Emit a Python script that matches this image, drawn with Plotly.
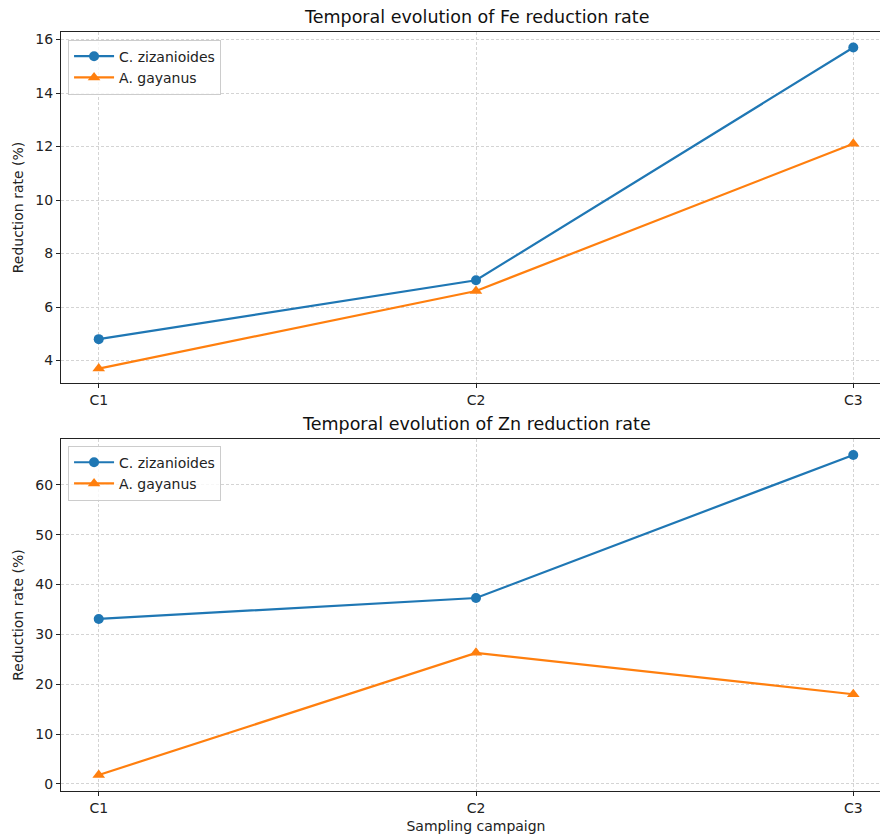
import plotly.graph_objects as go
from plotly.subplots import make_subplots

campaigns = ["C1", "C2", "C3"]
fe_czizanioides = [4.8, 7.0, 15.7]
fe_agayanus = [3.7, 6.6, 12.1]
zn_czizanioides = [33.1, 37.3, 66.0]
zn_agayanus = [1.8, 26.3, 18.0]

BLUE = "#1f77b4"
ORANGE = "#ff7f0e"
FONT = "DejaVu Sans"

fig = make_subplots(rows=2, cols=1, shared_xaxes=False, vertical_spacing=0.074)

def add(row, yc, ya, legend):
    fig.add_trace(go.Scatter(x=campaigns, y=yc, mode="lines+markers", name="C. zizanioides",
                             line=dict(color=BLUE, width=2.2),
                             marker=dict(symbol="circle", size=10, color=BLUE),
                             legend=legend), row=row, col=1)
    fig.add_trace(go.Scatter(x=campaigns, y=ya, mode="lines+markers", name="A. gayanus",
                             line=dict(color=ORANGE, width=2.2),
                             marker=dict(symbol="triangle-up", size=11, color=ORANGE),
                             legend=legend), row=row, col=1)

add(1, fe_czizanioides, fe_agayanus, "legend")
add(2, zn_czizanioides, zn_agayanus, "legend2")

legend_style = dict(x=0.0085, xanchor="left", bgcolor="rgba(255,255,255,0.8)",
                    bordercolor="#cccccc", borderwidth=1,
                    font=dict(family=FONT, size=14, color="#222"), tracegroupgap=0,
                    itemwidth=40)

fig.update_layout(
    width=891, height=839,
    margin=dict(l=61, r=0, t=32, b=48, autoexpand=False),
    plot_bgcolor="white", paper_bgcolor="white",
    font=dict(family=FONT, size=14, color="#222"),
    legend=dict(**legend_style, y=0.99, yanchor="top"),
    legend2=dict(**legend_style, y=0.455, yanchor="top"),
)
fig.update_yaxes(domain=[0.5375, 1.0], row=1, col=1)
fig.update_yaxes(domain=[0.0, 0.4638], row=2, col=1)

axis_common = dict(showline=True, linecolor="#222", linewidth=1.2, ticks="outside",
                   ticklen=4, tickcolor="#222", showgrid=True, gridcolor="#d4d4d4",
                   griddash="3px,2px", gridwidth=1, zeroline=False, automargin=False,
                   tickfont=dict(family=FONT, size=14, color="#222"))
fig.update_xaxes(**axis_common, mirror=True, range=[-0.1, 2.1])
fig.update_yaxes(**axis_common, mirror=False,
                 title=dict(text="Reduction rate (%)", font=dict(family=FONT, size=14, color="#222"), standoff=8))
fig.update_yaxes(range=[3.16, 16.28], tickvals=[4, 6, 8, 10, 12, 14, 16], row=1, col=1)
fig.update_yaxes(range=[-1.41, 69.2], tickvals=[0, 10, 20, 30, 40, 50, 60], row=2, col=1)
fig.update_xaxes(title=dict(text="Sampling campaign", font=dict(family=FONT, size=14, color="#222"), standoff=6), row=2, col=1)

fig.add_annotation(text="Temporal evolution of Fe reduction rate", x=0.5, y=1.0, xref="x domain", yref="y domain",
                   xanchor="center", yanchor="bottom", yshift=3, showarrow=False,
                   font=dict(family=FONT, size=17.5, color="#111"))
fig.add_annotation(text="Temporal evolution of Zn reduction rate", x=0.5, y=1.0, xref="x2 domain", yref="y2 domain",
                   xanchor="center", yanchor="bottom", yshift=3, showarrow=False,
                   font=dict(family=FONT, size=17.5, color="#111"))

fig.write_html("out.html", config={"displayModeBar": False},
               post_script="document.body.style.margin='0';document.body.style.overflow='hidden';")
